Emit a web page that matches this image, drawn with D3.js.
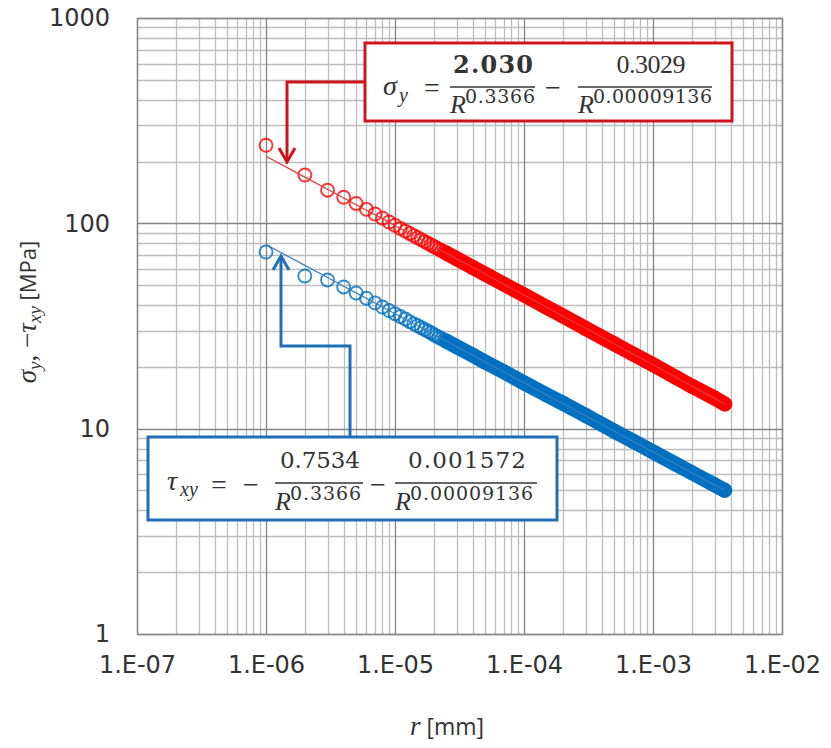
<!DOCTYPE html>
<html>
<head>
<meta charset="utf-8">
<script src="https://cdn.jsdelivr.net/npm/d3@7"></script>
<style>
  body { margin: 0; background: #fff; }
  svg { display: block; }
</style>
</head>
<body>
<div id="chart"></div>
<script>
// distance from crack tip r [mm]
var radius = [1e-6, 2e-6, 3e-6, 4e-6, 5e-6, 6e-6, 7e-6, 8e-6, 9e-6, 1e-5,
  1.1e-5, 1.2e-5, 1.3e-5, 1.4e-5, 1.5e-5, 1.6e-5, 1.7e-5, 1.8e-5, 1.9e-5, 2e-5,
  2.1e-5, 2.2e-5, 2.3e-5, 2.4e-5, 2.5e-5, 3e-5, 4e-5, 5e-5, 7e-5, 1e-4,
  1.5e-4, 2e-4, 3e-4, 5e-4, 7e-4, 1e-3, 1.5e-3, 2e-3, 3e-3, 3.6e-3];

// sigma_y [MPa]
var sigmaY = [240, 172, 145, 134, 125, 117, 111, 106, 101.5, 97.8,
  94.5, 91.7, 89.3, 87.1, 85.1, 83.2, 81.5, 80.0, 78.5, 77.1,
  75.9, 74.7, 73.6, 72.6, 71.6, 67.3, 61.0, 56.6, 50.5, 44.8,
  39.0, 35.4, 30.8, 25.9, 23.1, 20.5, 17.8, 16.1, 14.1, 13.2];

// -tau_xy [MPa]
var minusTauXY = [72.5, 55.4, 53.0, 49.0, 45.8, 43.2, 41.0, 39.1, 37.6, 36.3,
  35.2, 34.2, 33.2, 32.4, 31.7, 31.0, 30.4, 29.8, 29.3, 28.7,
  28.3, 27.8, 27.4, 27.0, 26.7, 25.1, 22.8, 21.1, 18.9, 16.7,
  14.6, 13.3, 11.6, 9.73, 8.69, 7.71, 6.72, 6.10, 5.33, 5.01];

// trend line coefficients (as printed in the boxes)
var sigmaCoef = [2.030, 0.3029];
var tauCoef = [0.7534, 0.001572];
var trendExp = [0.3366, 0.00009136];

var xTicks = [1e-7, 1e-6, 1e-5, 1e-4, 1e-3, 1e-2];
var xTickLabels = ['1.E-07', '1.E-06', '1.E-05', '1.E-04', '1.E-03', '1.E-02'];
var yTicks = [1, 10, 100, 1000];
var yTickLabels = ['1', '10', '100', '1000'];

var width = 831,
    height = 748,
    margin = {top: 18, right: 49, bottom: 114, left: 137},
    red = '#ff0000',
    blue = '#0070c0',
    redDark = '#d0141c',
    blueDark = '#1f6fb6',
    textColor = '#333333',
    bandFrom = 2.5e-5;

var svg = d3.select('#chart')
  .append('svg')
  .attr('width', width)
  .attr('height', height);

var x = d3.scaleLog()
  .domain([1e-7, 1e-2])
  .range([margin.left, width - margin.right]);

var y = d3.scaleLog()
  .domain([1, 1000])
  .range([height - margin.bottom, margin.top]);

function isDecade(v) {
  var l = Math.log10(v);
  return Math.abs(l - Math.round(l)) < 1e-9;
}

// grid: minor lines first, decades on top
var grid = svg.append('g');
var xGrid = x.ticks(),
    yGrid = y.ticks();
[false, true].forEach(function(major) {
  grid.selectAll(null)
    .data(xGrid.filter(function(d) { return isDecade(d) === major; }))
    .enter().append('line')
    .attr('x1', function(d) { return Math.round(x(d)) + 0.5; })
    .attr('x2', function(d) { return Math.round(x(d)) + 0.5; })
    .attr('y1', y.range()[1])
    .attr('y2', y.range()[0])
    .attr('stroke', major ? '#858585' : '#bdbdbd')
    .attr('stroke-width', 1.3);
  grid.selectAll(null)
    .data(yGrid.filter(function(d) { return isDecade(d) === major; }))
    .enter().append('line')
    .attr('y1', function(d) { return Math.round(y(d)) + 0.5; })
    .attr('y2', function(d) { return Math.round(y(d)) + 0.5; })
    .attr('x1', x.range()[0])
    .attr('x2', x.range()[1])
    .attr('stroke', major ? '#858585' : '#bdbdbd')
    .attr('stroke-width', 1.3);
});

svg.append('rect')
  .attr('x', x.range()[0] + 0.5)
  .attr('y', y.range()[1] + 0.5)
  .attr('width', x.range()[1] - x.range()[0])
  .attr('height', y.range()[0] - y.range()[1])
  .attr('fill', 'none')
  .attr('stroke', '#858585')
  .attr('stroke-width', 1.3);

// axes
var xAxis = svg.append('g')
  .attr('transform', 'translate(0,' + y.range()[0] + ')')
  .call(d3.axisBottom(x).tickValues(xTicks)
    .tickFormat(function(d, i) { return xTickLabels[i]; })
    .tickSize(0).tickPadding(22));

var yAxis = svg.append('g')
  .attr('transform', 'translate(' + x.range()[0] + ',0)')
  .call(d3.axisLeft(y).tickValues(yTicks)
    .tickFormat(function(d, i) { return yTickLabels[i]; })
    .tickSize(0).tickPadding(27));

[xAxis, yAxis].forEach(function(a) {
  a.select('.domain').remove();
  a.selectAll('text')
    .attr('fill', textColor)
    .style('font-family', '"DejaVu Sans", Verdana, sans-serif')
    .style('font-size', '24px');
});

// data series
var series = [
  {values: sigmaY, coef: sigmaCoef, sign: -1, color: red, line: '#e03a3a'},
  {values: minusTauXY, coef: tauCoef, sign: 1, color: blue, line: '#3a80c0'}
];

var lineGen = d3.line()
  .x(function(d) { return x(d[0]); })
  .y(function(d) { return y(d[1]); });

series.forEach(function(s) {
  var pts = radius.map(function(r, i) { return [r, s.values[i]]; });

  // dense part: the circles merge into a solid band
  svg.append('path')
    .attr('d', lineGen(pts.filter(function(d) { return d[0] >= bandFrom; })))
    .attr('fill', 'none')
    .attr('stroke', s.color)
    .attr('stroke-width', 15)
    .attr('stroke-linecap', 'round')
    .attr('stroke-linejoin', 'round');

  svg.append('g').selectAll('circle')
    .data(pts)
    .enter().append('circle')
    .attr('cx', function(d) { return x(d[0]); })
    .attr('cy', function(d) { return y(d[1]); })
    .attr('r', 6.5)
    .attr('fill', 'none')
    .attr('stroke', s.color)
    .attr('stroke-opacity', 0.8)
    .attr('stroke-width', 1.9);

  // trend line from the fitted coefficients
  var trend = radius.map(function(r) {
    return [r, s.coef[0] / Math.pow(r, trendExp[0]) + s.sign * s.coef[1] / Math.pow(r, trendExp[1])];
  });
  svg.append('path')
    .attr('d', lineGen(trend))
    .attr('fill', 'none')
    .attr('stroke', s.line)
    .attr('stroke-width', 1.2);
});

// callouts
function connector(points, color) {
  svg.append('polyline')
    .attr('points', points.map(function(p) { return p.join(','); }).join(' '))
    .attr('fill', 'none')
    .attr('stroke', color)
    .attr('stroke-width', 3)
    .attr('stroke-linejoin', 'miter');
}

connector([[365, 82], [287, 82], [287, 161]], redDark);
connector([[279, 148], [287, 162], [295, 148]], redDark);
connector([[350, 437], [350, 346], [281, 346], [281, 258]], blueDark);
connector([[273, 270], [281, 256], [289, 270]], blueDark);

svg.append('rect')
  .attr('x', 365).attr('y', 43).attr('width', 367).attr('height', 78)
  .attr('fill', '#fff').attr('stroke', redDark).attr('stroke-width', 3);
svg.append('rect')
  .attr('x', 148).attr('y', 437).attr('width', 409).attr('height', 83)
  .attr('fill', '#fff').attr('stroke', blueDark).attr('stroke-width', 3);

var serif = '"Liberation Serif", serif',
    wideSerif = '"DejaVu Serif", serif';

function txt(str, px, py, opts) {
  opts = opts || {};
  var t = svg.append('text')
    .attr('x', px).attr('y', py)
    .attr('fill', textColor)
    .style('font-family', opts.family || serif)
    .style('font-size', (opts.size || 26) + 'px')
    .style('font-style', opts.italic ? 'italic' : 'normal')
    .style('font-weight', opts.bold ? 'bold' : 'normal')
    .attr('text-anchor', opts.anchor || 'start')
    .text(str);
  if (opts.len) t.attr('textLength', opts.len).attr('lengthAdjust', 'spacing');
  return t;
}

function bar(x1, x2, yy) {
  svg.append('line')
    .attr('x1', x1).attr('x2', x2).attr('y1', yy).attr('y2', yy)
    .attr('stroke', textColor).attr('stroke-width', 1.5);
}

// denominator R^exponent
function denom(px, py, expo, len) {
  txt('R', px, py, {italic: true, size: 26});
  txt(expo, px + 15, py - 10, {family: wideSerif, size: 19, len: len});
}

// sigma_y equation
txt('\u03c3', 383, 95, {italic: true, size: 28});
txt('y', 399, 102, {italic: true, size: 20});
txt('=', 432, 97, {anchor: 'middle', size: 28});
bar(450, 535, 87);
txt(d3.format('.3f')(sigmaCoef[0]), 493, 73, {family: wideSerif, anchor: 'middle', bold: true, size: 24, len: 80});
denom(450, 113, String(trendExp[0]), 70);
txt('\u2212', 553, 97, {anchor: 'middle', size: 28});
bar(578, 712, 87);
txt(String(sigmaCoef[1]), 651, 73, {anchor: 'middle', size: 26, len: 69});
denom(578, 113, trendExp[1].toFixed(8), 119);

// tau_xy equation
txt('\u03c4', 167, 490, {italic: true, size: 28});
txt('xy', 180, 496, {italic: true, size: 20});
txt('=', 219, 494, {anchor: 'middle', size: 28});
txt('\u2212', 251, 494, {anchor: 'middle', size: 28});
bar(275, 363, 483);
txt(String(tauCoef[0]), 320, 468, {family: wideSerif, anchor: 'middle', size: 23, len: 80});
denom(275, 510, String(trendExp[0]), 71);
txt('\u2212', 378, 494, {anchor: 'middle', size: 28});
bar(395, 537, 483);
txt(String(tauCoef[1]), 467, 468, {family: wideSerif, anchor: 'middle', size: 23, len: 118});
denom(395, 510, trendExp[1].toFixed(8), 123);

// axis titles
var sans = '"Open Sans", "DejaVu Sans", sans-serif';

var xt = svg.append('text')
  .attr('x', 447).attr('y', 735)
  .attr('text-anchor', 'middle')
  .attr('fill', textColor);
xt.append('tspan').text('r')
  .style('font-family', serif).style('font-style', 'italic').style('font-size', '27px');
xt.append('tspan').text(' [mm]')
  .style('font-family', sans).style('font-size', '23px');

var yt = svg.append('text')
  .attr('transform', 'translate(36,312) rotate(-90)')
  .attr('text-anchor', 'middle')
  .attr('fill', textColor);
yt.append('tspan').text('\u03c3')
  .style('font-family', serif).style('font-style', 'italic').style('font-size', '27px');
yt.append('tspan').text('y').attr('dy', 5)
  .style('font-family', serif).style('font-style', 'italic').style('font-size', '19px');
yt.append('tspan').text(', \u2212').attr('dy', -5)
  .style('font-family', serif).style('font-size', '27px');
yt.append('tspan').text('\u03c4')
  .style('font-family', serif).style('font-style', 'italic').style('font-size', '27px');
yt.append('tspan').text('xy').attr('dy', 5)
  .style('font-family', serif).style('font-style', 'italic').style('font-size', '19px');
yt.append('tspan').text(' [MPa]').attr('dy', -5)
  .style('font-family', sans).style('font-size', '22px');
</script>
</body>
</html>
